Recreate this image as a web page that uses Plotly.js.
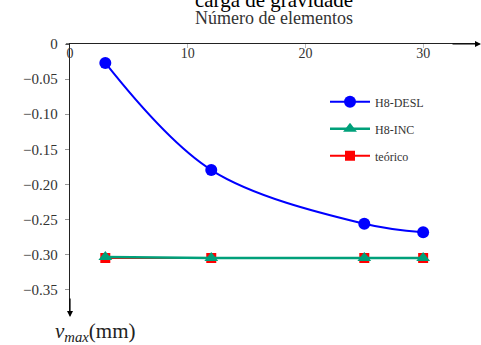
<!DOCTYPE html>
<html>
<head>
<meta charset="utf-8">
<script src="https://cdn.plot.ly/plotly-3.0.1.min.js"></script>
<style>html,body{margin:0;padding:0;background:#fff;}#chart{width:481px;height:345px;}</style>
</head>
<body>
<div id="chart"></div>
<script>
const elementos = [3, 12, 25, 30];
const h8Desl = [-0.027, -0.1795, -0.256, -0.268];
const h8Inc = [-0.3035, -0.3048, -0.3048, -0.3048];
const teorico = [-0.3048, -0.3048, -0.3048, -0.3048];
const xTicks = [0, 10, 20, 30];
const yTicks = [0, -0.05, -0.10, -0.15, -0.20, -0.25, -0.30, -0.35];
const yTickText = ['0', '−0.05', '−0.10', '−0.15', '−0.20', '−0.25', '−0.30', '−0.35'];

const FONT = 'Liberation Serif, DejaVu Serif, serif';

const traces = [
  {x: elementos, y: teorico, name: 'teórico', legendgroup: 'c', legendrank: 3,
   mode: 'lines+markers', line: {color: '#ff0000', width: 2},
   marker: {symbol: 'square', size: 10, color: '#ff0000'}},
  {x: elementos, y: h8Inc, name: 'H8-INC', legendgroup: 'b', legendrank: 2,
   mode: 'lines+markers', line: {color: '#00a07a', width: 2.5},
   marker: {symbol: 'triangle-up', size: 12, color: '#00a07a'}},
  {x: elementos, y: h8Desl, name: 'H8-DESL', legendgroup: 'a', legendrank: 1,
   mode: 'lines+markers', line: {color: '#0000ff', width: 2, shape: 'spline', smoothing: 1},
   marker: {symbol: 'circle', size: 12, color: '#0000ff'}}
];

const layout = {
  width: 481, height: 345,
  margin: {l: 70, r: 3, t: 44, b: 30},
  paper_bgcolor: '#fff', plot_bgcolor: '#fff',
  font: {family: FONT, color: '#222', size: 14},
  title: {text: 'carga de gravidade', font: {family: FONT, size: 21, color: '#000'},
          x: 0.5, xanchor: 'center', xref: 'paper', y: 1.0, yref: 'container', yanchor: 'middle'},
  showlegend: true,
  legend: {x: 0.625, y: 0.84, xanchor: 'left', yanchor: 'top', bgcolor: 'rgba(0,0,0,0)',
           traceorder: 'grouped', tracegroupgap: 8, itemwidth: 40,
           font: {family: FONT, size: 12, color: '#333'}},
  xaxis: {
    range: [0, 34.66], side: 'top', showgrid: false, zeroline: false,
    showline: true, linecolor: '#222', linewidth: 1.2,
    tickmode: 'array', tickvals: xTicks, ticktext: xTicks.map(String),
    ticks: 'inside', ticklen: 4, tickcolor: '#bbb',
    ticklabelposition: 'inside', ticklabeloverflow: 'allow',
    tickfont: {family: FONT, size: 14, color: '#333'},
    title: {text: 'Número de elementos', font: {family: FONT, size: 18, color: '#333'}, standoff: 16}
  },
  yaxis: {
    range: [-0.386, 0.00002], showgrid: false, zeroline: false,
    showline: true, linecolor: '#222', linewidth: 1.2,
    tickmode: 'array', tickvals: yTicks, ticktext: yTickText,
    ticks: 'outside', ticklen: 4, tickcolor: '#999', ticklabelstandoff: 4,
    tickfont: {family: FONT, size: 15, color: '#333'}
  },
  shapes: [
    {type: 'line', xref: 'paper', yref: 'paper', x0: -0.01, x1: 0, y0: 1, y1: 1,
     line: {color: '#222', width: 1.2}}
  ],
  annotations: [
    {x: 1, y: 1, xref: 'paper', yref: 'paper', xshift: 3, ax: -30, ay: 0, showarrow: true,
     arrowhead: 2, arrowsize: 1, arrowwidth: 1.2, arrowcolor: '#000', text: ''},
    {x: 0, y: 0, xref: 'paper', yref: 'paper', yshift: -2, ax: 0, ay: -20, showarrow: true,
     arrowhead: 2, arrowsize: 1, arrowwidth: 1.2, arrowcolor: '#000', text: ''},
    {x: 0.0, y: 0, xref: 'paper', yref: 'paper', xshift: -17, yshift: -17,
     xanchor: 'left', yanchor: 'middle', showarrow: false,
     text: '<i>v</i><sub><i>max</i></sub>(mm)', font: {family: FONT, size: 21, color: '#222'}}
  ]
};

Plotly.newPlot('chart', traces, layout, {displayModeBar: false, staticPlot: true});
</script>
</body>
</html>
